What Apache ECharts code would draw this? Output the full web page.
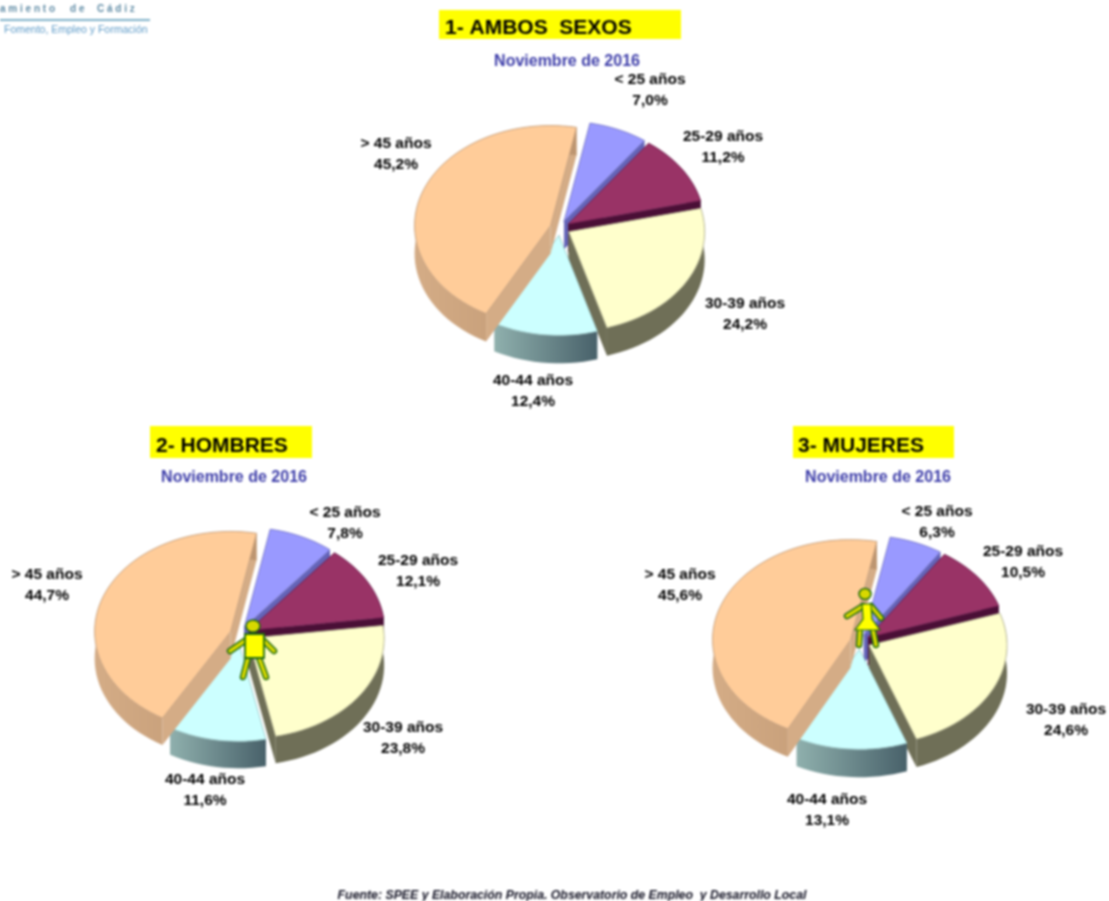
<!DOCTYPE html>
<html><head><meta charset="utf-8">
<style>html,body{margin:0;padding:0;background:#fff}#c{width:1109px;height:901px;filter:blur(1px)}</style>
<script src="https://cdn.jsdelivr.net/npm/echarts@6/dist/echarts.min.js"></script>
</head><body><div id="c"></div>
<script>
// ---- data ----
const categories = ['< 25 años', '25-29 años', '30-39 años', '40-44 años', '> 45 años'];
const ambosSexos = [7.0, 11.2, 24.2, 12.4, 45.2];
const hombres    = [7.8, 12.1, 23.8, 11.6, 44.7];
const mujeres    = [6.3, 10.5, 24.6, 13.1, 45.6];
const period = 'Noviembre de 2016';
const source = 'Fuente: SPEE y Elaboración Propia. Observatorio de Empleo  y Desarrollo Local';

// ---- styles and layout ----
const topColors = ['#9999FF', '#993366', '#FFFFCC', '#CCFFFF', '#FFCC99'];
const grad = (a, b) => ({type:'linear', x:0, y:0, x2:1, y2:0, colorStops:[{offset:0,color:a},{offset:1,color:b}]});
const wallColors = ['#6464B8', '#4A0F36', '#6F6F57', grad('#8FB0AD', '#48616A'), grad('#D4AC86', '#BD9570')];
const edgeColors = ['#7A7AC8', '#6E1E50', '#B0B08E', '#9CC8C8', '#C09A78'];
const FONT = '"Liberation Sans", Arial, sans-serif';
const pies = [
  {values: ambosSexos, cx:560, cy:228, rx:136, ry:100, depth:28, explode:10, start:11,
   labels: [[650,90],[723,147],[745,314],[533,391],[396,154]]},
  {values: hombres, cx:240, cy:634, rx:136, ry:100, depth:27, explode:10, start:11,
   labels: [[345,523],[418,571],[403,738],[205,790],[47,585]]},
  {values: mujeres, cx:860, cy:642, rx:138, ry:100, depth:28, explode:10, start:11,
   labels: [[937,522],[1023,562],[1066,720],[827,810],[680,585]]}
];

function arcPoints(c, a1, a2) {
  const n = Math.max(4, Math.ceil((a2 - a1) / 3)), pts = [];
  for (let i = 0; i <= n; i++) {
    const t = (a1 + (a2 - a1) * i / n) * Math.PI / 180;
    pts.push([c.x + c.rx * Math.sin(t), c.y - c.ry * Math.cos(t)]);
  }
  return pts;
}
function makeRender(pie) {
  const total = pie.values.reduce((s, v) => s + v, 0);
  return function (params) {
    const i = params.dataIndex;
    let a1 = pie.start;
    for (let k = 0; k < i; k++) a1 += pie.values[k] / total * 360;
    const a2 = a1 + pie.values[i] / total * 360;
    const mid = (a1 + a2) / 2 * Math.PI / 180;
    const c = {
      x: pie.cx + pie.explode * Math.sin(mid),
      y: pie.cy - pie.explode * (pie.ry / pie.rx) * Math.cos(mid),
      rx: pie.rx, ry: pie.ry
    };
    const arc = arcPoints(c, a1, a2);
    const down = p => [p[0], p[1] + pie.depth];
    const apex = [c.x, c.y];
    const first = arc[0], last = arc[arc.length - 1];
    const wall = wallColors[i];
    const poly = (points, fill, stroke, w) => ({
      type:'polygon', shape:{points}, style:{fill, stroke: stroke || null, lineWidth: w || 0}
    });
    const children = [
      poly([apex, first, down(first), down(apex)], typeof wall === 'string' ? wall : wall.colorStops[0].color),
      poly([apex, last, down(last), down(apex)], typeof wall === 'string' ? wall : wall.colorStops[0].color),
      poly(arc.concat(arc.map(down).reverse()), wall),
      poly([apex].concat(arc), topColors[i], edgeColors[i], 0.8),
      {type:'text', z2:50, style:{
        text: categories[i] + '\n' + pie.values[i].toFixed(1).replace('.', ',') + '%',
        x: pie.labels[i][0], y: pie.labels[i][1], align:'center', verticalAlign:'middle',
        font:'bold 15.5px ' + FONT, lineHeight:21, fill:'#000000'
      }}
    ];
    return {type:'group', children};
  };
}
const series = pies.map(p => ({
  type:'custom', coordinateSystem:'none', silent:true, clip:false, animation:false,
  data: p.values.map((v, i) => [i, v]), renderItem: makeRender(p)
}));

const banner = (x, y, w, h) => ({type:'rect', shape:{x,y,width:w,height:h}, style:{fill:'#FFFF00'}, z:0});
const txt = (text, x, y, font, fill, align) => ({type:'text', z:20, style:{text, x, y, font, fill, align: align || 'left', verticalAlign:'middle'}});
const G = '#1F6A10', O = '#D8D800';
const limb = (x1,y1,x2,y2) => [
  {type:'line', z:30, shape:{x1,y1,x2,y2}, style:{stroke:G, lineWidth:6.5, lineCap:'round'}},
  {type:'line', z:31, shape:{x1,y1,x2,y2}, style:{stroke:O, lineWidth:3.5, lineCap:'round'}}
];
const head = (cx,cy,rx,ry) => ({type:'ellipse', z:32, shape:{cx,cy,rx,ry}, style:{fill:O, stroke:G, lineWidth:1.5}});
const graphics = [
  banner(439,10,242,29), banner(150,426,162,32), banner(793,426,161,32),
  txt('1- AMBOS  SEXOS', 445, 28, 'bold 21px '+FONT, '#000000'),
  txt('2- HOMBRES', 156, 446, 'bold 21px '+FONT, '#000000'),
  txt('3- MUJERES', 798, 446, 'bold 21px '+FONT, '#000000'),
  txt(period, 567, 62, 'bold 16px '+FONT, '#3C3CA8', 'center'),
  txt(period, 234, 478, 'bold 16px '+FONT, '#3C3CA8', 'center'),
  txt(period, 878, 478, 'bold 16px '+FONT, '#3C3CA8', 'center'),
  txt(source, 572, 896, 'italic bold 12.3px '+FONT, '#111122', 'center'),
  txt('a m i e n t o', 0, 9, 'bold 10px '+FONT, '#5F8BA5'),
  txt('d e', 70, 9, 'bold 10px '+FONT, '#5F8BA5'),
  txt('C á d i z', 97, 9, 'bold 10px '+FONT, '#5F8BA5'),
  {type:'rect', shape:{x:0,y:19,width:150,height:2}, style:{fill:'#7FB0C8'}},
  txt('Fomento, Empleo y Formación', 4, 30, '10.5px '+FONT, '#5E9BC8'),
  // male figure
  ...limb(246,640,230,651), ...limb(263,640,274,651), ...limb(248,658,243,677), ...limb(259,658,266,677),
  head(253,626,7,6),
  {type:'rect', z:33, shape:{x:245,y:634,width:19,height:24}, style:{fill:'#FFFF00', stroke:G, lineWidth:1.8}},
  // female figure
  ...limb(863,606,847,616), ...limb(871,606,881,618), ...limb(860,630,859,645), ...limb(873,630,876,645),
  head(865,594,6,5.5),
  {type:'polygon', z:33, shape:{points:[[862,604],[871,604],[872,619],[880,630],[855,630],[863,619]]}, style:{fill:'#FFFF00', stroke:G, lineWidth:1.2}}
];

const chart = echarts.init(document.getElementById('c'), null, {renderer:'canvas'});
chart.setOption({
  animation:false, backgroundColor:'#fff', tooltip:{show:false},
  series, graphic:{elements:graphics}
});
</script></body></html>
